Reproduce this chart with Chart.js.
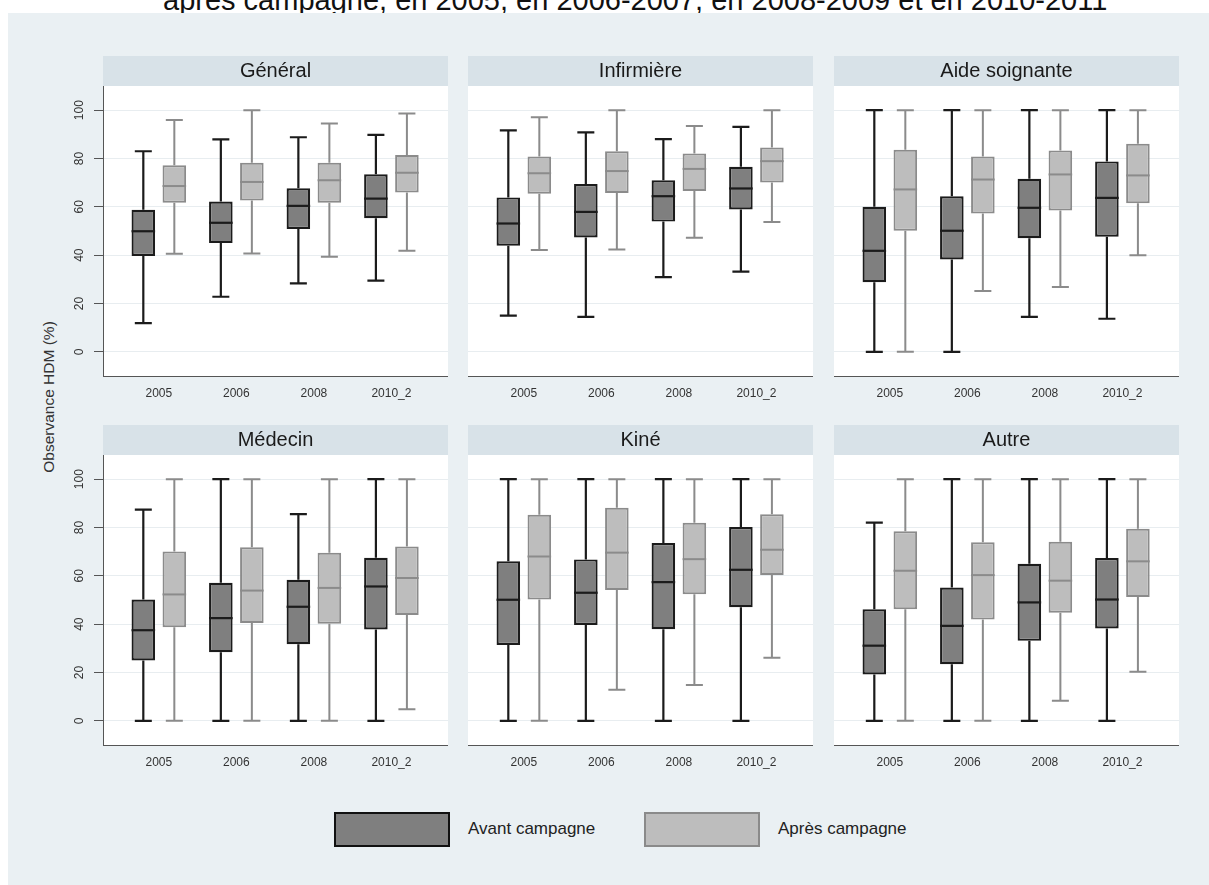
<!DOCTYPE html>
<html>
<head>
<meta charset="utf-8">
<script src="https://cdn.jsdelivr.net/npm/chart.js@4.4.1/dist/chart.umd.min.js"></script>
<style>
  html, body { margin: 0; padding: 0; background: #ffffff; }
  body { width: 1209px; height: 885px; position: relative; overflow: hidden;
         font-family: "Liberation Sans", Arial, Helvetica, sans-serif; }
  #titleClip { position: absolute; left: 0; top: 0; width: 1209px; height: 13px; overflow: hidden; }
  #title { position: absolute; left: 163px; top: -15.5px; font-size: 29px; line-height: 30px;
           white-space: nowrap; color: #111; }
  #frame { position: absolute; left: 8px; top: 13px; right: 0; bottom: 0; background: #eaf0f3; }
  canvas.panel { position: absolute; }
  #ytitle { position: absolute; left: 49px; top: 397px; transform: translate(-50%, -50%) rotate(-90deg);
            font-size: 15.5px; white-space: nowrap; color: #333; }
  .lg-box { position: absolute; top: 812px; width: 116px; height: 35px; box-sizing: border-box; }
  .lg-text { position: absolute; top: 829px; transform: translateY(-50%); font-size: 17px; color: #222; white-space: nowrap; }
</style>
</head>
<body>
<div id="frame"></div>
<div id="titleClip"><div id="title">après campagne, en 2005, en 2006-2007, en 2008-2009 et en 2010-2011</div></div>
<div id="ytitle">Observance HDM (%)</div>
<div id="panels"></div>
<div class="lg-box" style="left:334px;background:#7f7f7f;border:2.5px solid #111;"></div>
<div class="lg-text" id="lgA" style="left:468px;"></div>
<div class="lg-box" style="left:644px;background:#bdbdbd;border:2.5px solid #8a8a8a;"></div>
<div class="lg-text" id="lgB" style="left:778px;"></div>
<script>
// Survey waves on the x axis, one group of two boxes per wave
const categories = ['2005', '2006', '2008', '2010_2'];
const seriesNames = ['Avant campagne', 'Après campagne'];
const panelTitles = ['Général', 'Infirmière', 'Aide soignante', 'Médecin', 'Kiné', 'Autre'];
const yTicks = [0, 20, 40, 60, 80, 100];

// Each entry: [min, q1, median, q3, max] for one wave
const generalAvant    = [[11.9, 39.7, 49.9, 58.8, 83.0], [22.8, 45.0, 53.4, 62.2, 87.9], [28.3, 50.8, 60.4, 67.7, 88.8], [29.5, 55.3, 63.4, 73.5, 89.8]];
const generalApres    = [[40.6, 61.7, 68.6, 77.2, 95.9], [40.7, 62.6, 70.3, 78.2, 100], [39.3, 61.7, 71.0, 78.2, 94.5], [41.8, 65.9, 74.1, 81.5, 98.6]];
const infirmiereAvant = [[15.0, 43.9, 53.1, 63.9, 91.6], [14.5, 47.3, 57.9, 69.4, 90.8], [30.9, 53.9, 64.4, 71.0, 88.0], [33.2, 58.9, 67.6, 76.6, 93.1]];
const infirmiereApres = [[42.1, 65.4, 73.9, 80.8, 97.1], [42.3, 65.7, 74.8, 83.0, 100], [47.2, 66.6, 75.7, 82.1, 93.4], [53.7, 70.1, 78.9, 84.6, 100]];
const aideAvant       = [[0, 28.8, 41.8, 60.0, 100], [0, 38.2, 50.1, 64.4, 100], [14.5, 47.0, 59.6, 71.6, 100], [13.7, 47.6, 63.7, 78.8, 100]];
const aideApres       = [[0, 50.1, 67.2, 83.6, 100], [25.2, 57.2, 71.3, 80.8, 100], [26.8, 58.5, 73.4, 83.3, 100], [40.0, 61.5, 73.0, 86.1, 100]];
const medecinAvant    = [[0, 25.0, 37.5, 50.2, 87.4], [0, 28.4, 42.5, 57.1, 100], [0, 31.7, 47.2, 58.4, 85.5], [0, 37.8, 55.6, 67.5, 100]];
const medecinApres    = [[0, 38.7, 52.3, 70.1, 100], [0, 40.5, 53.9, 71.8, 100], [0, 40.2, 55.0, 69.6, 100], [4.8, 43.8, 59.1, 72.1, 100]];
const kineAvant       = [[0, 31.4, 50.1, 66.0, 100], [0, 39.7, 53.0, 66.8, 100], [0, 37.9, 57.4, 73.6, 100], [0, 47.0, 62.5, 80.2, 100]];
const kineApres       = [[0, 50.2, 68.0, 85.3, 100], [12.9, 54.1, 69.6, 88.2, 100], [14.8, 52.4, 66.9, 82.0, 100], [26.1, 60.3, 70.8, 85.5, 100]];
const autreAvant      = [[0, 19.2, 31.1, 46.2, 82.0], [0, 23.4, 39.3, 55.2, 100], [0, 33.1, 49.0, 65.0, 100], [0, 38.2, 50.2, 67.4, 100]];
const autreApres      = [[0, 46.2, 62.1, 78.4, 100], [0, 41.9, 60.3, 73.9, 100], [8.3, 44.7, 58.0, 74.1, 100], [20.3, 51.2, 66.0, 79.5, 100]];

const panelData = [
  [generalAvant, generalApres],
  [infirmiereAvant, infirmiereApres],
  [aideAvant, aideApres],
  [medecinAvant, medecinApres],
  [kineAvant, kineApres],
  [autreAvant, autreApres]
];

document.getElementById('lgA').textContent = seriesNames[0];
document.getElementById('lgB').textContent = seriesNames[1];

const seriesStyle = [
  { fill: '#7f7f7f', line: '#1b1b1b', width: 2.2 },
  { fill: '#bdbdbd', line: '#8b8b8b', width: 2 }
];

// Panel grid geometry
const PLOT_W = 345, HEADER_H = 30, PLOT_H = 290, XAXIS_H = 30, YAXIS_W = 43;
const colLeft = [103, 468, 834];
const rowTop = [56, 425];
const CAP = 17;

// Header band and white plot background behind each panel
const panelBackground = {
  id: 'panelBackground',
  beforeDraw(chart) {
    const { ctx, chartArea: a } = chart;
    ctx.save();
    ctx.fillStyle = '#d8e2e8';
    ctx.fillRect(a.left, 0, a.right - a.left, a.top);
    ctx.fillStyle = '#ffffff';
    ctx.fillRect(a.left, a.top, a.right - a.left, a.bottom - a.top);
    ctx.restore();
  }
};

// Whiskers (behind the boxes) and medians (on top), placed from each bar element
const boxWhiskers = {
  id: 'boxWhiskers',
  beforeDatasetsDraw(chart) {
    const { ctx } = chart;
    const y = chart.scales.y;
    chart.data.datasets.forEach((ds, d) => {
      const meta = chart.getDatasetMeta(d);
      const st = seriesStyle[d];
      ctx.save();
      ctx.strokeStyle = st.line;
      ctx.lineWidth = st.width;
      ctx.lineCap = 'butt';
      meta.data.forEach((bar, i) => {
        const [mn, q1, , q3, mx] = ds.stats[i];
        const x = bar.x;
        ctx.beginPath();
        ctx.moveTo(x, y.getPixelForValue(q3));
        ctx.lineTo(x, y.getPixelForValue(mx));
        ctx.moveTo(x - CAP / 2, y.getPixelForValue(mx));
        ctx.lineTo(x + CAP / 2, y.getPixelForValue(mx));
        ctx.moveTo(x, y.getPixelForValue(q1));
        ctx.lineTo(x, y.getPixelForValue(mn));
        ctx.moveTo(x - CAP / 2, y.getPixelForValue(mn));
        ctx.lineTo(x + CAP / 2, y.getPixelForValue(mn));
        ctx.stroke();
      });
      ctx.restore();
    });
  },
  afterDatasetsDraw(chart) {
    const { ctx } = chart;
    const y = chart.scales.y;
    chart.data.datasets.forEach((ds, d) => {
      const meta = chart.getDatasetMeta(d);
      const st = seriesStyle[d];
      ctx.save();
      ctx.strokeStyle = st.line;
      ctx.lineWidth = st.width;
      meta.data.forEach((bar, i) => {
        const med = y.getPixelForValue(ds.stats[i][2]);
        ctx.beginPath();
        ctx.moveTo(bar.x - bar.width / 2, med);
        ctx.lineTo(bar.x + bar.width / 2, med);
        ctx.stroke();
      });
      ctx.restore();
    });
  }
};

const holder = document.getElementById('panels');

panelTitles.forEach((title, p) => {
  const col = p % 3, row = Math.floor(p / 3);
  const yw = col === 0 ? YAXIS_W : 0;
  const canvas = document.createElement('canvas');
  canvas.className = 'panel';
  canvas.width = yw + PLOT_W;
  canvas.height = HEADER_H + PLOT_H + XAXIS_H;
  canvas.style.left = (colLeft[col] - yw) + 'px';
  canvas.style.top = rowTop[row] + 'px';
  canvas.style.width = canvas.width + 'px';
  canvas.style.height = canvas.height + 'px';
  holder.appendChild(canvas);

  const datasets = panelData[p].map((series, s) => ({
    label: seriesNames[s],
    data: series.map((v, i) => ({ x: i + 1, y: [v[1], v[3]] })),
    stats: series,
    backgroundColor: seriesStyle[s].fill,
    borderColor: seriesStyle[s].line,
    borderWidth: seriesStyle[s].width,
    borderSkipped: false,
    categoryPercentage: 0.8,
    barPercentage: 0.76
  }));

  new Chart(canvas, {
    type: 'bar',
    data: { datasets },
    plugins: [panelBackground, boxWhiskers],
    options: {
      responsive: false,
      animation: false,
      devicePixelRatio: 1,
      layout: { padding: 0 },
      plugins: {
        legend: { display: false },
        tooltip: { enabled: false },
        title: {
          display: true,
          text: title,
          fullSize: false,
          color: '#1a1a1a',
          font: { family: '"Liberation Sans", Arial, sans-serif', size: 20, weight: 'normal', lineHeight: 1.2 },
          padding: { top: 3, bottom: 3 }
        }
      },
      scales: {
        x: {
          type: 'linear',
          offset: false,
          min: 0.28,
          max: 4.73,
          afterBuildTicks: (scale) => { scale.ticks = categories.map((c, i) => ({ value: i + 1 })); },
          afterFit: (scale) => { scale.height = XAXIS_H; },
          grid: { display: false, drawTicks: false, offset: false },
          border: { display: true, color: '#555', width: 1 },
          ticks: {
            padding: 10,
            color: '#333',
            font: { family: '"Liberation Sans", Arial, sans-serif', size: 12 },
            maxRotation: 0,
            autoSkip: false,
            callback: (v) => categories[v - 1] ?? ''
          }
        },
        y: {
          type: 'linear',
          min: -10,
          max: 110,
          afterBuildTicks: (scale) => { scale.ticks = yTicks.map(v => ({ value: v })); },
          afterFit: (scale) => { scale.width = yw; },
          grid: {
            color: '#e8edf0',
            lineWidth: 1,
            drawTicks: col === 0,
            tickLength: 9,
            tickColor: '#555'
          },
          border: { display: col === 0, color: '#555', width: 1 },
          ticks: {
            display: col === 0,
            minRotation: 90,
            maxRotation: 90,
            crossAlign: 'center',
            padding: 4,
            color: '#333',
            font: { family: '"Liberation Sans", Arial, sans-serif', size: 12 },
            callback: (v) => String(v)
          }
        }
      }
    }
  });
});
</script>
</body>
</html>
